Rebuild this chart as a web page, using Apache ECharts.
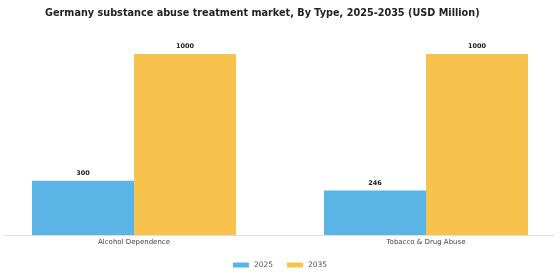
<!DOCTYPE html>
<html>
<head>
<meta charset="utf-8">
<script src="https://cdn.jsdelivr.net/npm/echarts@6/dist/echarts.min.js"></script>
<style>html,body{margin:0;padding:0;background:#fff}#c{width:560px;height:280px}</style>
</head>
<body>
<div id="c"></div>
<script>
const categories = ['Alcohol Dependence', 'Tobacco & Drug Abuse'];
const seriesNames = ['2025', '2035'];
const values2025 = [300, 246];
const values2035 = [1000, 1000];
const titleText = 'Germany substance abuse treatment market, By Type, 2025-2035 (USD Million)';

const chart = echarts.init(document.getElementById('c'), null, {renderer: 'canvas'});
const labelStyle = {show: true, position: 'top', distance: 4, fontSize: 6.5, fontWeight: 'bold', color: '#222', fontFamily: 'DejaVu Sans'};
chart.setOption({
  animation: false,
  title: {
    text: titleText, left: 40, top: 3,
    textStyle: {fontSize: 9.7, fontWeight: 'bold', color: '#222', fontFamily: 'DejaVu Sans'}
  },
  legend: {
    data: seriesNames, bottom: 6, left: 'center', itemWidth: 16, itemHeight: 5, itemGap: 14,
    icon: 'rect',
    textStyle: {fontSize: 7.5, color: '#555', fontFamily: 'DejaVu Sans'}
  },
  grid: {left: -12, width: 584, top: 54, bottom: 45, containLabel: false, outerBoundsMode: 'none'},
  xAxis: {
    type: 'category', data: categories,
    axisLine: {show: false}, axisTick: {show: false},
    axisLabel: {fontSize: 7, color: '#444', margin: 4, fontFamily: 'DejaVu Sans'}
  },
  yAxis: {type: 'value', min: 0, max: 1000, show: false, splitLine: {show: false}},
  graphic: [{
    type: 'line', shape: {x1: 5, y1: 235.5, x2: 554, y2: 235.5},
    style: {stroke: '#ddd', lineWidth: 1}, z: 10
  }],
  series: [
    {name: seriesNames[0], type: 'bar', data: values2025, barWidth: 102, barGap: '0%',
     itemStyle: {color: '#5BB4E6'}, label: labelStyle},
    {name: seriesNames[1], type: 'bar', data: values2035, barWidth: 102, barGap: '0%',
     itemStyle: {color: '#F8C34C'}, label: labelStyle}
  ]
});
</script>
</body>
</html>
